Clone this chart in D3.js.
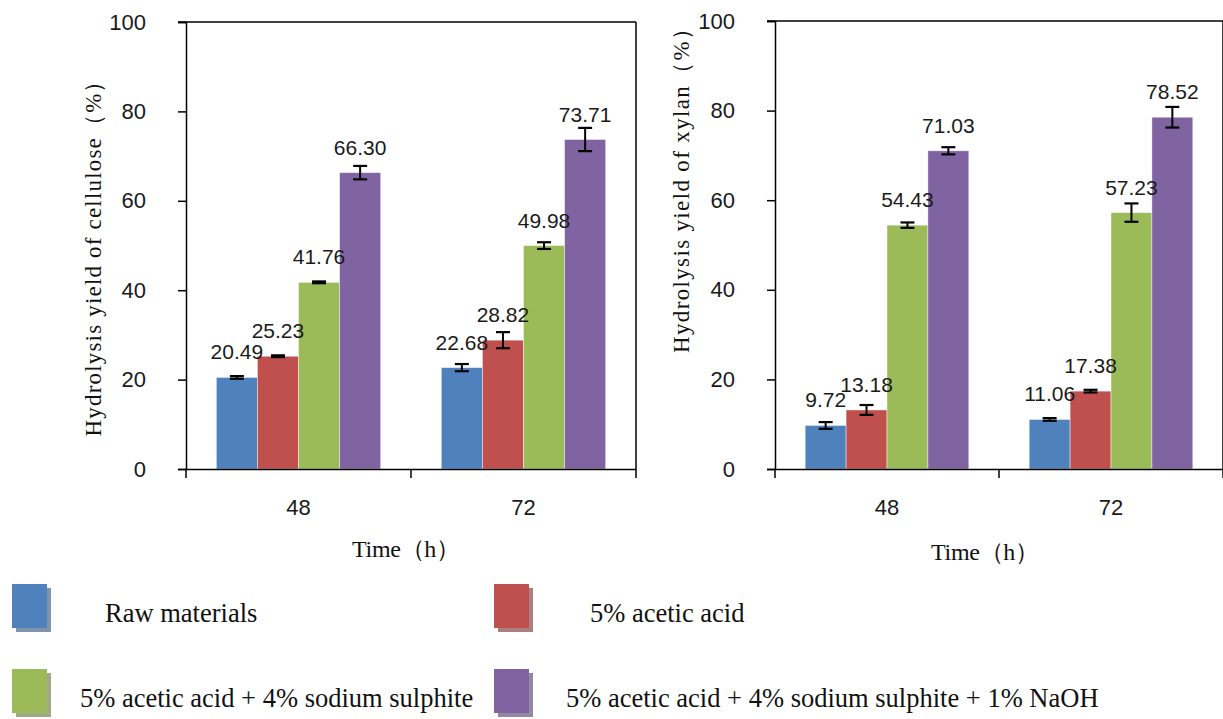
<!DOCTYPE html>
<html>
<head>
<meta charset="utf-8">
<script src="https://cdn.jsdelivr.net/npm/d3@7"></script>
<style>
  html, body { margin: 0; padding: 0; background: #fff; }
  svg { display: block; }
</style>
</head>
<body>
<svg id="chart" width="1223" height="719"></svg>
<script>
// ---------------- DATA ----------------
const categories = ["48", "72"];
const seriesNames = [
  "Raw materials",
  "5% acetic acid",
  "5% acetic acid + 4% sodium sulphite",
  "5% acetic acid + 4% sodium sulphite + 1% NaOH"
];
// values per category (rows) per series (columns)
const celluloseValues = [
  [20.49, 25.23, 41.76, 66.30],
  [22.68, 28.82, 49.98, 73.71]
];
const celluloseErrors = [
  [0.3, 0.2, 0.2, 1.5],
  [0.8, 1.8, 0.75, 2.6]
];
const xylanValues = [
  [9.72, 13.18, 54.43, 71.03],
  [11.06, 17.38, 57.23, 78.52]
];
const xylanErrors = [
  [0.75, 1.1, 0.6, 0.8],
  [0.3, 0.3, 2.05, 2.3]
];
const yTicks = [0, 20, 40, 60, 80, 100];
const yTitles = ["Hydrolysis yield of cellulose（%）", "Hydrolysis yield of xylan（%）"];
const xTitle = "Time（h）";

// ---------------- STYLE ----------------
const colors = ["#4f81bd", "#c0504d", "#9bbb59", "#8064a2"];
const SANS = "'Liberation Sans', Arial, sans-serif";
const SERIF = "'Liberation Serif', 'Times New Roman', serif";

const svg = d3.select("#chart");

const panels = [
  { values: celluloseValues, errors: celluloseErrors, title: yTitles[0],
    x0: 186, x1: 636, yTop: 22, yBottom: 469,
    yTitleX: 101, yTitleY: 253, yTitleLen: 367,
    xTitleX: 406, xTitleY: 557 },
  { values: xylanValues, errors: xylanErrors, title: yTitles[1],
    x0: 775, x1: 1223, yTop: 21, yBottom: 469,
    yTitleX: 689, yTitleY: 185, yTitleLen: 336,
    xTitleX: 985, xTitleY: 560 }
];

panels.forEach(p => {
  const g = svg.append("g");
  const x = d3.scaleBand().domain(categories).range([p.x0, p.x1]).paddingInner(0).paddingOuter(0);
  const xs = d3.scaleBand().domain(d3.range(seriesNames.length)).range([0, x.bandwidth()])
    .paddingInner(0).paddingOuter(0.738);
  const y = d3.scaleLinear().domain([0, 100]).range([p.yBottom, p.yTop]);

  // frame (top + right)
  g.append("line").attr("x1", p.x0 - 8).attr("x2", p.x1).attr("y1", y(100)).attr("y2", y(100))
    .attr("stroke", "#000").attr("stroke-width", 1.5);
  g.append("line").attr("x1", p.x1).attr("x2", p.x1).attr("y1", y(100)).attr("y2", y(0))
    .attr("stroke", "#000").attr("stroke-width", 1.5);

  const barLayer = g.append("g");
  const errLayer = g.append("g");
  const labelLayer = g.append("g");

  categories.forEach((c, ci) => {
    seriesNames.forEach((s, si) => {
      const v = p.values[ci][si];
      const e = p.errors[ci][si];
      const bx = x(c) + xs(si);
      const bw = xs.bandwidth();
      barLayer.append("rect")
        .attr("x", bx).attr("width", bw)
        .attr("y", y(v)).attr("height", y(0) - y(v))
        .attr("fill", colors[si])
        .attr("stroke", "rgba(255,255,255,0.55)").attr("stroke-width", 0.8);
      const cx = bx + bw / 2;
      const capW = 7;
      errLayer.append("line").attr("x1", cx).attr("x2", cx).attr("y1", y(v - e)).attr("y2", y(v + e))
        .attr("stroke", "#000").attr("stroke-width", 2);
      [v - e, v + e].forEach(t => {
        errLayer.append("line").attr("x1", cx - capW).attr("x2", cx + capW)
          .attr("y1", y(t)).attr("y2", y(t))
          .attr("stroke", "#000").attr("stroke-width", 2.2);
      });
      labelLayer.append("text")
        .attr("x", cx).attr("y", y(v) - 18)
        .attr("text-anchor", "middle")
        .attr("font-family", SANS).attr("font-size", 21).attr("fill", "#1a1a1a")
        .text(d3.format(".2f")(v));
    });
  });

  // y axis
  const yAxis = d3.axisLeft(y).tickValues(yTicks).tickSize(8).tickPadding(32).tickFormat(d3.format("d"));
  const ya = g.append("g").attr("transform", `translate(${p.x0},0)`).call(yAxis);
  ya.select(".domain").attr("stroke", "#000").attr("stroke-width", 1.5);
  ya.selectAll(".tick line").attr("stroke", "#000").attr("stroke-width", 1.5);
  ya.selectAll(".tick text").attr("font-family", SANS).attr("font-size", 22).attr("fill", "#1a1a1a");

  // x axis
  const xAxis = d3.axisBottom(x).tickSize(0).tickPadding(30);
  const xa = g.append("g").attr("transform", `translate(0,${p.yBottom})`).call(xAxis);
  xa.select(".domain").attr("stroke", "#000").attr("stroke-width", 1.5);
  xa.selectAll(".tick text").attr("font-family", SANS).attr("font-size", 22).attr("fill", "#1a1a1a");
  // category boundary ticks
  const bounds = categories.map(c => x(c)).concat([x(categories[categories.length - 1]) + x.bandwidth()]);
  g.selectAll(".bt").data(bounds).enter().append("line")
    .attr("x1", d => d).attr("x2", d => d)
    .attr("y1", p.yBottom).attr("y2", p.yBottom + 9)
    .attr("stroke", "#000").attr("stroke-width", 1.5);

  // titles
  g.append("text")
    .attr("transform", `translate(${p.yTitleX},${p.yTitleY}) rotate(-90)`)
    .attr("text-anchor", "middle")
    .attr("font-family", SERIF).attr("font-size", 23).attr("fill", "#111")
    .attr("textLength", p.yTitleLen).attr("lengthAdjust", "spacing")
    .text(p.title);
  g.append("text")
    .attr("x", p.xTitleX).attr("y", p.xTitleY)
    .attr("text-anchor", "middle")
    .attr("font-family", SERIF).attr("font-size", 24).attr("fill", "#111")
    .attr("textLength", 108).attr("lengthAdjust", "spacing")
    .text(xTitle);
});

// ---------------- LEGEND ----------------
const legendCols = [12, 494];
const legendRows = [584, 669];
const legendTextX = [105, 590, 80, 566];
const lg = svg.append("g");
seriesNames.forEach((s, i) => {
  const col = i % 2, row = Math.floor(i / 2);
  const sx = legendCols[col], sy = legendRows[row];
  const sw = 35, sh = 44;
  lg.append("rect").attr("x", sx + 4).attr("y", sy + 4).attr("width", sw).attr("height", sh)
    .attr("fill", d3.interpolateRgb(colors[i], "#a0a0a0")(0.6));
  lg.append("rect").attr("x", sx).attr("y", sy).attr("width", sw).attr("height", sh)
    .attr("fill", colors[i]);
  lg.append("text")
    .attr("x", legendTextX[i]).attr("y", sy + sh / 2 + 16)
    .attr("font-family", SERIF).attr("font-size", 26.5).attr("fill", "#111")
    .text(s);
});
</script>
</body>
</html>
